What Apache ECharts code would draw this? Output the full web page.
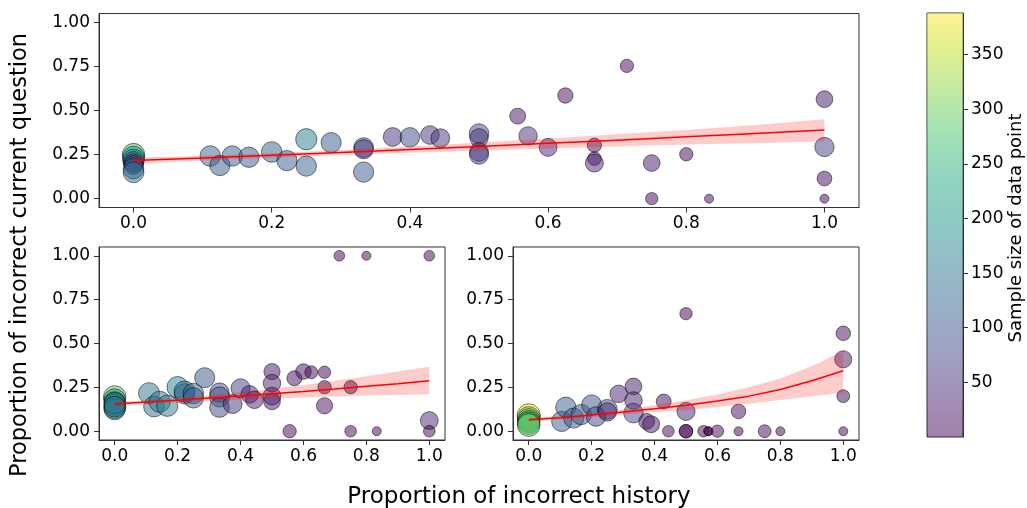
<!DOCTYPE html>
<html>
<head>
<meta charset="utf-8">
<script src="https://cdn.jsdelivr.net/npm/echarts@6/dist/echarts.min.js"></script>
<style>html,body{margin:0;padding:0;background:#fff}#c{width:1027px;height:508px}</style>
</head>
<body>
<div id="c"></div>
<script>
// ---------- data ----------
const xTicks = [0, 0.2, 0.4, 0.6, 0.8, 1.0];
const yTicks = [0, 0.25, 0.5, 0.75, 1.0];
const cbTicks = [50, 100, 150, 200, 250, 300, 350];
const cbMin = 1, cbMax = 388;

// top panel: [x, y, sample size]
const topX = [0,0,0,0,0,0,0,0, 0.111,0.125,0.143,0.167,0.2,0.222,0.25,0.25,0.286,0.333,0.333,0.333,0.375,0.4,0.429,0.444,0.5,0.5,0.5,0.5,0.556,0.571,0.6,0.625,0.667,0.667,0.667,0.714,0.75,0.75,0.8,0.833,1.0,1.0,1.0,1.0];
const topY = [0.25,0.235,0.22,0.21,0.2,0.19,0.17,0.15, 0.242,0.188,0.242,0.235,0.265,0.216,0.337,0.185,0.318,0.29,0.28,0.151,0.35,0.348,0.361,0.343,0.369,0.345,0.265,0.25,0.468,0.356,0.291,0.585,0.303,0.227,0.202,0.753,0.202,0,0.252,0,0.564,0.293,0.114,0];
const topN = [270,230,190,110,70,60,120,140, 120,110,115,110,125,110,165,115,105,90,70,110,57,80,55,60,85,50,60,70,18,50,42,14,9,7,42,6,25,4,6,1,25,73,11,1];

// bottom-left panel
const blX = [0,0,0,0,0,0,0,0, 0.109,0.125,0.143,0.167,0.2,0.222,0.222,0.25,0.25,0.286,0.333,0.333,0.333,0.375,0.4,0.429,0.444,0.5,0.5,0.5,0.5,0.556,0.571,0.6,0.625,0.667,0.667,0.667,0.714,0.75,0.75,0.8,0.833,1.0,1.0,1.0];
const blY = [0.195,0.18,0.165,0.15,0.135,0.125,0.16,0.14, 0.217,0.141,0.168,0.145,0.251,0.213,0.226,0.215,0.19,0.305,0.22,0.195,0.135,0.155,0.245,0.21,0.179,0.34,0.274,0.2,0.17,0,0.302,0.34,0.336,0.336,0.251,0.145,1.0,0.251,0,1.0,0,1.0,0.061,0];
const blN = [290,200,160,180,240,150,170,140, 150,140,150,160,170,110,150,120,110,100,80,100,85,60,65,35,35,20,35,40,25,6,12,15,5,4,6,20,2,6,3,1,1,2,40,3];

// bottom-right panel
const brX = [0,0,0,0,0,0, 0.105,0.118,0.143,0.167,0.2,0.214,0.25,0.25,0.286,0.333,0.333,0.333,0.375,0.389,0.429,0.444,0.5,0.5,0.5,0.5,0.556,0.571,0.571,0.6,0.667,0.667,0.75,0.8,1.0,1.0,1.0,1.0];
const brY = [0.09,0.075,0.065,0.055,0.045,0.035, 0.056,0.137,0.075,0.095,0.15,0.084,0.125,0.11,0.213,0.255,0.175,0.103,0.056,0.04,0.169,0,0.67,0.113,0,0,0,0,0,0,0.113,0,0,0,0.558,0.41,0.2,0];
const brN = [385,330,280,240,260,300, 110,110,100,110,100,80,90,50,35,25,35,80,18,28,12,3,4,45,7,6,3,1,1,4,10,1,5,1,10,30,5,1];

// regression fits
const fitX = [0, 0.1, 0.2, 0.3, 0.4, 0.5, 0.6, 0.7, 0.8, 0.9, 1.0];
const topFit = [0.216, 0.231, 0.246, 0.262, 0.279, 0.296, 0.314, 0.332, 0.351, 0.370, 0.390];
const topHi  = [0.232, 0.244, 0.258, 0.276, 0.296, 0.318, 0.341, 0.365, 0.390, 0.418, 0.450];
const topLo  = [0.200, 0.217, 0.232, 0.247, 0.260, 0.272, 0.284, 0.296, 0.307, 0.315, 0.325];
const blFit = [0.155, 0.166, 0.177, 0.189, 0.201, 0.214, 0.227, 0.241, 0.256, 0.271, 0.287];
const blHi  = [0.168, 0.177, 0.190, 0.205, 0.222, 0.242, 0.263, 0.287, 0.313, 0.340, 0.368];
const blLo  = [0.143, 0.154, 0.164, 0.173, 0.180, 0.186, 0.192, 0.198, 0.203, 0.207, 0.211];
const brFit = [0.065, 0.077, 0.092, 0.110, 0.128, 0.148, 0.172, 0.200, 0.238, 0.288, 0.345];
const brHi  = [0.075, 0.087, 0.103, 0.124, 0.148, 0.177, 0.210, 0.250, 0.300, 0.370, 0.457];
const brLo  = [0.056, 0.067, 0.080, 0.095, 0.108, 0.120, 0.138, 0.157, 0.178, 0.200, 0.220];

// ---------- chart ----------
const viridis = ['#440154','#482475','#414487','#355f8d','#2a788e','#21918c','#22a884','#44bf70','#7ad151','#bddf26','#fde725'];
const FONT = 'DejaVu Sans';

function zip3(a, b, c) { return a.map((v, i) => [v, b[i], c[i]]); }
function zip2(a, b) { return a.map((v, i) => [v, b[i]]); }

const grids = [
  { left: 99, top: 13.5, width: 760, height: 194 },
  { left: 99, top: 247, width: 346, height: 193 },
  { left: 513, top: 247, width: 346, height: 193 },
  { left: 927, top: 13, width: 36, height: 424 }
];
grids.forEach(g => { g.show = true; g.borderColor = '#333'; g.borderWidth = 1; g.backgroundColor = 'transparent'; });

function valueAxis(kind, gi) {
  const isX = kind === 'x';
  const ticks = isX ? xTicks : yTicks;
  return {
    type: 'value', gridIndex: gi, min: -0.05, max: 1.05,
    axisLine: { show: true, onZero: false, lineStyle: { color: '#333', width: 1 } },
    axisTick: { show: true, inside: false, length: 5, customValues: ticks, lineStyle: { color: '#333' } },
    axisLabel: { show: true, customValues: ticks, margin: isX ? 8 : 9, color: '#000', fontSize: 17, fontFamily: FONT,
      formatter: v => isX ? v.toFixed(1) : v.toFixed(2) },
    splitLine: { show: false }
  };
}

const xAxes = [valueAxis('x', 0), valueAxis('x', 1), valueAxis('x', 2),
  { type: 'category', gridIndex: 3, data: ['c'], show: false }];
const yAxes = [valueAxis('y', 0), valueAxis('y', 1), valueAxis('y', 2),
  { type: 'value', gridIndex: 3, position: 'right', min: 0, max: cbMax,
    axisLine: { show: true, lineStyle: { color: '#333' } },
    axisTick: { show: true, inside: false, length: 5, customValues: cbTicks, lineStyle: { color: '#333' } },
    axisLabel: { show: true, customValues: cbTicks, margin: 8, color: '#000', fontSize: 17, fontFamily: FONT },
    splitLine: { show: false } }];

const panels = [
  { pts: zip3(topX, topY, topN), fit: topFit, hi: topHi, lo: topLo },
  { pts: zip3(blX, blY, blN), fit: blFit, hi: blHi, lo: blLo },
  { pts: zip3(brX, brY, brN), fit: brFit, hi: brHi, lo: brLo }
];

const series = [];
panels.forEach((p, k) => {
  series.push({
    type: 'scatter', xAxisIndex: k, yAxisIndex: k, data: p.pts,
    symbolSize: v => 9 + 2.4 * Math.log(v[2]),
    itemStyle: { opacity: 0.5, borderColor: '#000', borderWidth: 1 },
    emphasis: { disabled: true }, silent: true, z: 2
  });
  series.push({
    type: 'custom', xAxisIndex: k, yAxisIndex: k, data: [[0, 0]], silent: true, z: 3,
    renderItem: function (params, api) {
      const pts = [];
      for (let i = 0; i < fitX.length; i++) pts.push(api.coord([fitX[i], p.hi[i]]));
      for (let i = fitX.length - 1; i >= 0; i--) pts.push(api.coord([fitX[i], p.lo[i]]));
      return { type: 'polygon', shape: { points: pts }, style: { fill: 'rgba(255,0,0,0.2)', stroke: null } };
    }
  });
  series.push({
    type: 'line', xAxisIndex: k, yAxisIndex: k, data: zip2(fitX, p.fit), symbol: 'none',
    lineStyle: { color: '#ff0000', width: 1.5 }, silent: true, z: 4
  });
});

const stops = viridis.map((c, i) => {
  const r = parseInt(c.slice(1, 3), 16), g = parseInt(c.slice(3, 5), 16), b = parseInt(c.slice(5, 7), 16);
  return { offset: i / (viridis.length - 1), color: 'rgba(' + r + ',' + g + ',' + b + ',0.5)' };
});
series.push({
  type: 'bar', xAxisIndex: 3, yAxisIndex: 3, data: [cbMax], barWidth: '100%', silent: true,
  itemStyle: { color: new echarts.graphic.LinearGradient(0, 1, 0, 0, stops) }
});

const chart = echarts.init(document.getElementById('c'), null, { renderer: 'canvas' });
chart.setOption({
  animation: false,
  backgroundColor: '#fff',
  grid: grids, xAxis: xAxes, yAxis: yAxes,
  visualMap: { type: 'continuous', show: false, min: cbMin, max: cbMax, dimension: 2,
    seriesIndex: [0, 3, 6], inRange: { color: viridis } },
  series: series,
  graphic: [
    { type: 'text', x: 20, y: 255, rotation: Math.PI / 2,
      style: { text: 'Proportion of incorrect current question', font: '22.5px "DejaVu Sans"', fill: '#000', textAlign: 'center', textVerticalAlign: 'middle' } },
    { type: 'text', x: 519, y: 497,
      style: { text: 'Proportion of incorrect history', font: '23px "DejaVu Sans"', fill: '#000', textAlign: 'center', textVerticalAlign: 'middle' } },
    { type: 'text', x: 1016, y: 228, rotation: Math.PI / 2,
      style: { text: 'Sample size of data point', font: '18px "DejaVu Sans"', fill: '#000', textAlign: 'center', textVerticalAlign: 'middle' } }
  ]
});
</script>
</body>
</html>
